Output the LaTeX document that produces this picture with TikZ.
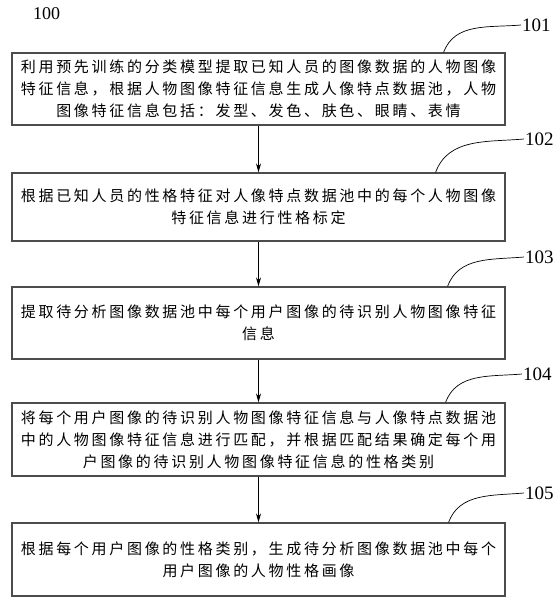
\documentclass[tikz,border=0pt]{standalone}
\usepackage{fontspec}
\setmainfont{Liberation Serif}
\newfontfamily\cjk[LetterSpace=18]{Noto Sans CJK SC}
\usetikzlibrary{arrows.meta}

\begin{document}
\begin{tikzpicture}[x=1pt,y=1pt,
    stepbox/.style={draw=black!70,line width=1.2pt,minimum width=493pt,inner sep=0pt,align=center,font=\cjk\fontsize{15}{22}\selectfont},
    numlabel/.style={anchor=west,inner sep=1pt,font=\fontsize{19}{19}\selectfont},
    flow/.style={-{Stealth[length=9pt,width=5pt]},line width=0.8pt},
    leader/.style={line width=0.7pt}]
    \useasboundingbox (0,0) rectangle (558,-607);
    \node [numlabel,font=\fontsize{18}{18}\selectfont] (fig) at (32,-14){100};

    \node [stepbox,minimum height=72pt] (s1) at (258.5,-89){利用预先训练的分类模型提取已知人员的图像数据的人物图像\\特征信息，根据人物图像特征信息生成人像特点数据池，人物\\图像特征信息包括：发型、发色、肤色、眼睛、表情};
    \node [stepbox,minimum height=68pt] (s2) at (258.5,-207){根据已知人员的性格特征对人像特点数据池中的每个人物图像\\特征信息进行性格标定};
    \node [stepbox,minimum height=72pt] (s3) at (258.5,-323){提取待分析图像数据池中每个用户图像的待识别人物图像特征\\信息};
    \node [stepbox,minimum height=73pt] (s4) at (258.5,-439.5){将每个用户图像的待识别人物图像特征信息与人像特点数据池\\中的人物图像特征信息进行匹配，并根据匹配结果确定每个用\\户图像的待识别人物图像特征信息的性格类别};
    \node [stepbox,minimum height=73pt] (s5) at (258.5,-559.5){根据每个用户图像的性格类别，生成待分析图像数据池中每个\\用户图像的人物性格画像};

    \node [numlabel] (l1) at (521,-25){101};
    \node [numlabel] (l2) at (524,-139){102};
    \node [numlabel] (l3) at (524,-257){103};
    \node [numlabel] (l4) at (522,-374){104};
    \node [numlabel] (l5) at (524,-493){105};

    \draw [leader] ([xshift=-62pt]s1.north east) to[out=70,in=185] (l1.west);
    \draw [leader] ([xshift=-70pt]s2.north east) to[out=70,in=185] (l2.west);
    \draw [leader] ([xshift=-58pt]s3.north east) to[out=70,in=185] (l3.west);
    \draw [leader] ([xshift=-60pt]s4.north east) to[out=70,in=185] (l4.west);
    \draw [leader] ([xshift=-57pt]s5.north east) to[out=70,in=185] (l5.west);

    \draw [flow] (s1) -- (s2);
    \draw [flow] (s2) -- (s3);
    \draw [flow] (s3) -- (s4);
    \draw [flow] (s4) -- (s5);
\end{tikzpicture}
\end{document}
